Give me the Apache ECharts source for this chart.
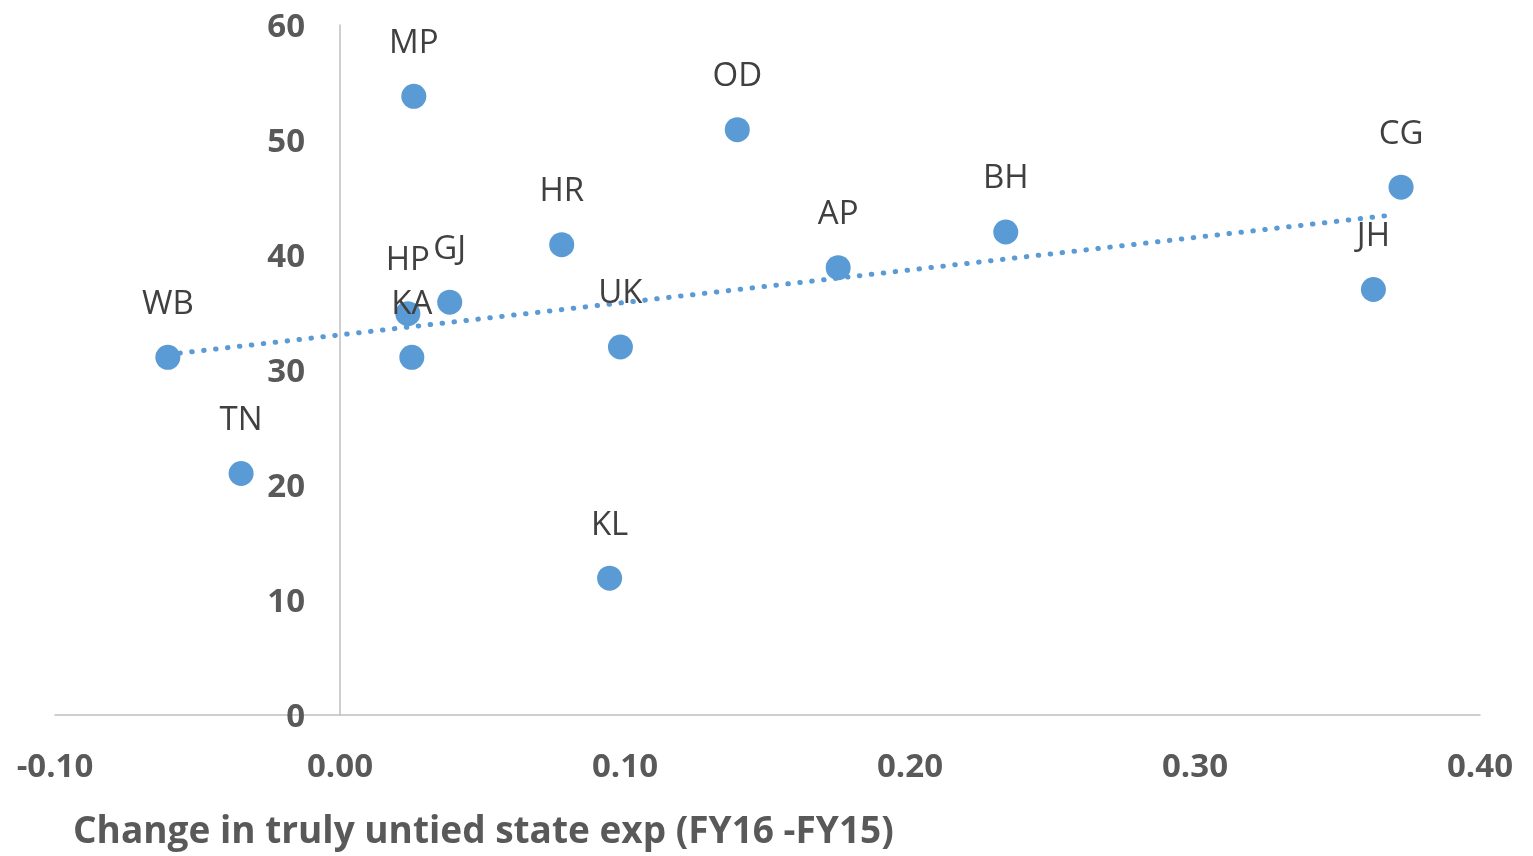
<!DOCTYPE html>
<html>
<head>
<meta charset="utf-8">
<script src="https://cdn.jsdelivr.net/npm/echarts@6/dist/echarts.min.js"></script>
<style>
html,body{margin:0;padding:0;background:#fff;}
#chart{width:1533px;height:856px;}
</style>
</head>
<body>
<div id="chart"></div>
<script>
// Data
const states = ['WB','TN','HP','KA','GJ','MP','HR','UK','KL','OD','AP','BH','CG','JH'];
const changeExp = [-0.0604,-0.0347,0.0238,0.0252,0.0385,0.0259,0.0778,0.0984,0.0946,0.1394,0.1748,0.2336,0.3723,0.3626];
const yValues = [31.1,21.0,34.9,31.1,35.9,53.8,40.9,32.0,11.9,50.9,38.9,42.0,45.9,37.0];
// Linear trendline end points as drawn in the reference
const trendX = [-0.0604, 0.370];
const trendY = [31.35, 43.5];
const xTicks = [-0.10, 0.00, 0.10, 0.20, 0.30, 0.40];
const yTicks = [0, 10, 20, 30, 40, 50, 60];
const xTitle = 'Change in truly untied state exp (FY16 -FY15)';

const blue = '#5B9BD5';
const points = states.map((s, i) => ({name: s, value: [changeExp[i], yValues[i]]}));
const trend = trendX.map((x, i) => [x, trendY[i]]);

const gridLeft = 55, gridRight = 53;
const plotW = 1533 - gridLeft - gridRight;
const xMin = xTicks[0], xMax = xTicks[xTicks.length - 1];
// y axis sits at x = 0, move the whole axis (line + labels) there
const yAxisOffset = -plotW * (0 - xMin) / (xMax - xMin);

const chart = echarts.init(document.getElementById('chart'));
chart.setOption({
  animation: false,
  backgroundColor: '#fff',
  title: {
    text: xTitle,
    left: 68, top: 809,
    textStyle: {fontFamily: 'Open Sans', fontWeight: 'bold', fontSize: 37, color: '#595959'}
  },
  grid: {left: gridLeft, right: gridRight, top: 25, bottom: 141, containLabel: false, outerBoundsMode: 'none'},
  xAxis: {
    type: 'value',
    min: xMin, max: xMax, interval: 0.1,
    axisLine: {show: true, onZero: false, lineStyle: {color: '#BFBFBF', width: 1.5}},
    axisTick: {show: false},
    splitLine: {show: false},
    axisLabel: {
      margin: 36,
      fontFamily: 'Open Sans', fontWeight: 'bold', fontSize: 33, color: '#595959',
      formatter: v => v.toFixed(2)
    }
  },
  yAxis: {
    type: 'value',
    min: yTicks[0], max: yTicks[yTicks.length - 1], interval: 10,
    offset: yAxisOffset,
    axisLine: {show: true, onZero: false, lineStyle: {color: '#BFBFBF', width: 1.5}},
    axisTick: {show: false},
    splitLine: {show: false},
    axisLabel: {
      margin: 35,
      formatter: v => '{a|' + v + '}',
      rich: {
        a: {fontFamily: 'Open Sans', fontWeight: 'bold', fontSize: 33, color: '#595959', padding: [6, 0, 0, 0]}
      },
      fontFamily: 'Open Sans', fontWeight: 'bold', fontSize: 33, color: '#595959'
    }
  },
  series: [
    {
      type: 'line',
      data: trend,
      symbol: 'none',
      z: 1,
      lineStyle: {color: blue, width: 5, type: [0.5, 11.5], cap: 'round'}
    },
    {
      type: 'scatter',
      data: points,
      symbolSize: 25,
      z: 2,
      itemStyle: {color: blue, opacity: 1},
      label: {
        show: true,
        position: 'top',
        distance: 24,
        formatter: p => p.name,
        fontFamily: 'Open Sans', fontSize: 33, color: '#404040'
      }
    }
  ]
});
</script>
</body>
</html>
